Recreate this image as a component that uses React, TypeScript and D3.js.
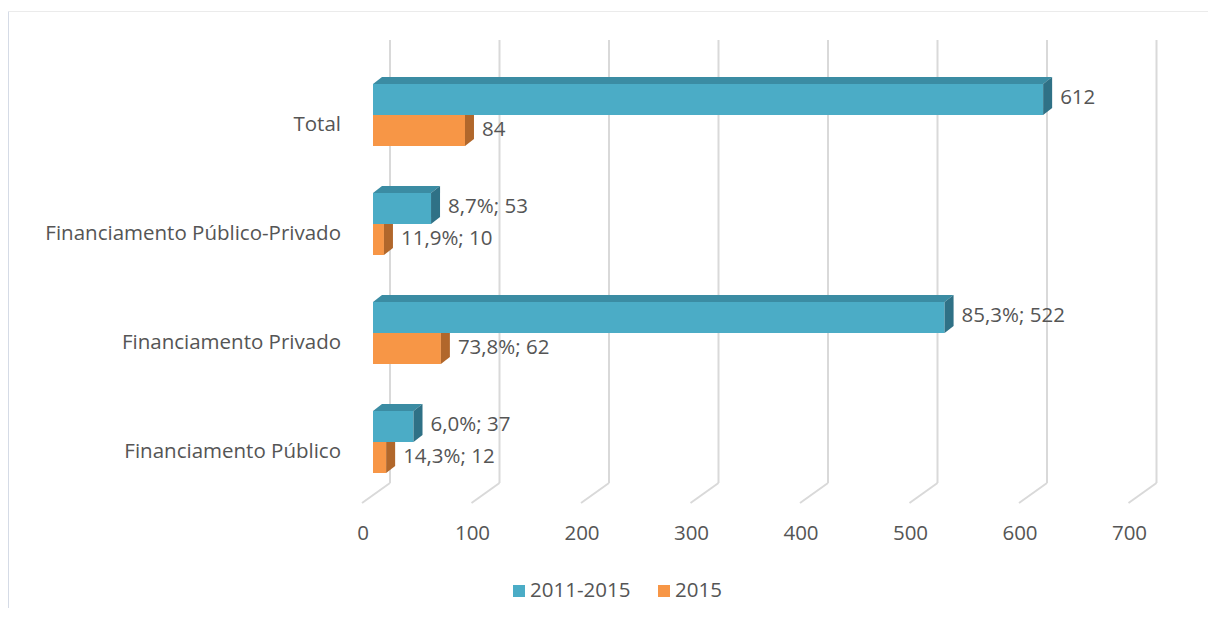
import React from "react";
import * as d3 from "d3";

// categories top to bottom
const categories = [
  "Total",
  "Financiamento Público-Privado",
  "Financiamento Privado",
  "Financiamento Público",
];
const series = ["2011-2015", "2015"];
const values2011_2015 = [612, 53, 522, 37];
const values2015 = [84, 10, 62, 12];
const pct2011_2015 = ["", "8,7%", "85,3%", "6,0%"];
const pct2015 = ["", "11,9%", "73,8%", "14,3%"];
const xTicks = [0, 100, 200, 300, 400, 500, 600, 700];

const W = 1208;
const H = 622;
const FONT = "'Open Sans', 'Noto Sans', sans-serif";
const FS = 20.5;
const TEXT = "#555555";

const colors = [
  { front: "#4bacc6", top: "#3b8ca3", side: "#2f7186" },
  { front: "#f79646", top: "#cf7a35", side: "#b1672b" },
];

const depth = { dx: 9, dy: -7 };
const barH = 31;

function Bar({ x0, x1, y0, c }: { x0: number; x1: number; y0: number; c: typeof colors[0] }) {
  const { dx, dy } = depth;
  const y1 = y0 + barH;
  const top = [[x0, y0], [x0 + dx, y0 + dy], [x1 + dx, y0 + dy], [x1, y0]];
  const side = [[x1, y0], [x1 + dx, y0 + dy], [x1 + dx, y1 + dy], [x1, y1]];
  const pts = (p: number[][]) => p.map((d) => d.join(",")).join(" ");
  return (
    <g>
      <rect x={x0} y={y0} width={x1 - x0} height={barH} fill={c.front} />
      <polygon points={pts(top)} fill={c.top} />
      <polygon points={pts(side)} fill={c.side} />
    </g>
  );
}

export default function App() {
  const x = d3.scaleLinear().domain([0, 700]).range([373, 373 + 700 * 1.095]);
  const y = d3.scaleBand().domain(categories).range([60.5, 496.5]);
  const center = (c: string) => (y(c) as number) + y.bandwidth() / 2;

  const backDx = 17;
  const frontDx = -11;
  const gridTop = 40;
  const backBottom = 483;
  const frontBottom = 503;
  const labelGap = depth.dx + 8;

  return (
    <div style={{ position: "absolute", left: 0, top: 0 }}>
      <svg width={W} height={H} style={{ display: "block", background: "#fff" }}>
        {/* chart border (top and left visible) */}
        <line x1={8.5} x2={W} y1={11.5} y2={11.5} stroke="#ebebeb" />
        <line x1={8.5} x2={8.5} y1={11.5} y2={608} stroke="#d5dbe6" />

        {/* gridlines: back wall + floor diagonal */}
        {xTicks.map((t) => (
          <g key={t}>
            <line x1={x(t) + backDx} x2={x(t) + backDx} y1={gridTop} y2={backBottom} stroke="#d9d9d9" strokeWidth={2} />
            <line x1={x(t) + backDx} x2={x(t) + frontDx} y1={backBottom} y2={frontBottom} stroke="#d9d9d9" strokeWidth={2} />
            <text x={x(t) - 10} y={535} textAnchor="middle" dominantBaseline="middle" fontFamily={FONT} fontSize={FS} fill={TEXT}>
              {t}
            </text>
          </g>
        ))}

        {/* bars */}
        {categories.map((c, i) => {
          const cy = center(c);
          return (
            <g key={c}>
              <Bar x0={x(0)} x1={x(values2015[i])} y0={cy} c={colors[1]} />
              <Bar x0={x(0)} x1={x(values2011_2015[i])} y0={cy - barH} c={colors[0]} />
            </g>
          );
        })}

        {/* value labels */}
        {categories.map((c, i) => {
          const cy = center(c);
          const l1 = pct2011_2015[i] ? `${pct2011_2015[i]}; ${values2011_2015[i]}` : `${values2011_2015[i]}`;
          const l2 = pct2015[i] ? `${pct2015[i]}; ${values2015[i]}` : `${values2015[i]}`;
          return (
            <g key={c} fontFamily={FONT} fontSize={FS} fill={TEXT} dominantBaseline="middle">
              <text x={x(values2011_2015[i]) + labelGap} y={cy - barH / 2 - 1}>{l1}</text>
              <text x={x(values2015[i]) + labelGap} y={cy + barH / 2}>{l2}</text>
            </g>
          );
        })}

        {/* category labels */}
        {categories.map((c) => (
          <text key={c} x={341} y={center(c) + 11} textAnchor="end" dominantBaseline="middle" fontFamily={FONT} fontSize={FS} fill={TEXT}>
            {c}
          </text>
        ))}

        {/* legend */}
        <g fontFamily={FONT} fontSize={FS} fill={TEXT}>
          {series.map((s, i) => {
            const lx = i === 0 ? 513 : 658;
            return (
              <g key={s}>
                <rect x={lx} y={585} width={12} height={12} fill={colors[i].front} />
                <text x={lx + 17} y={592} dominantBaseline="middle">{s}</text>
              </g>
            );
          })}
        </g>
      </svg>
    </div>
  );
}
